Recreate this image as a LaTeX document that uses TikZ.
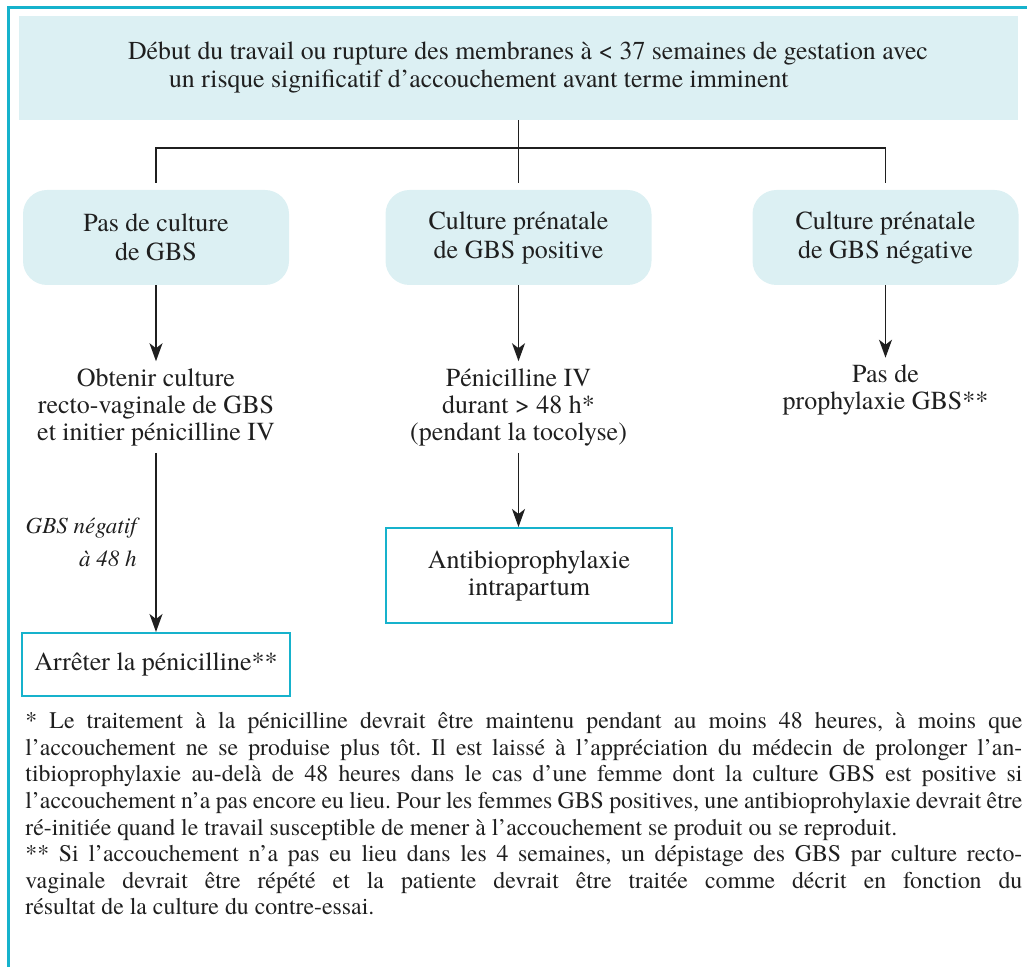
\documentclass[tikz,border=0pt]{standalone}
\usepackage{fontspec}
\setmainfont{TeX Gyre Termes}
\usetikzlibrary{positioning,calc,arrows.meta}
\definecolor{frameCyan}{RGB}{22,178,204}
\definecolor{boxCyan}{RGB}{220,240,243}
\colorlet{inkGray}{black!88}
\setlength{\parindent}{0pt}
\tolerance=9999
\hyphenpenalty=10000
\frenchspacing

\begin{document}
\begin{tikzpicture}[x=0.5pt, y=-0.5pt,
    every node/.style={font=\fontsize{13}{13.5}\selectfont, text=inkGray},
    bluebox/.style={fill=boxCyan, align=center},
    branchbox/.style={bluebox, rounded corners=12pt, minimum width=133pt,
                      minimum height=47.5pt, font=\fontsize{13}{14.5}\selectfont},
    outcome/.style={draw=frameCyan, line width=1pt, fill=white, align=center},
    tree/.style={inkGray, line width=0.8pt},
    flow/.style={tree, -{Stealth[length=9pt, width=6.5pt, inset=2.5pt]}}]

        \useasboundingbox (0,0) rectangle (1027,967);

        % outer frame
        \draw[frameCyan, line width=1.5pt] (8,967) -- (8,8) -- (1027,8);

        % onset
        \node[bluebox, minimum width=499.5pt, minimum height=52pt, align=left,
              font=\fontsize{12.9}{14}\selectfont] (onset) at (518.5,68)
            {\hspace*{9.5pt}Début du travail ou rupture des membranes à < 37 semaines de gestation avec\\
             \hspace*{30pt}un risque significatif d'accouchement avant terme imminent};

        % three branches
        \node[branchbox] (nocult) at (156,237.5) {Pas de culture\\de GBS};
        \node[branchbox] (pos)    at (518.5,237.5) {Culture prénatale\\de GBS positive};
        \node[branchbox] (neg)    at (885.5,237.5) {Culture prénatale\\de GBS négative};

        \coordinate (split) at (518.5,148);
        \draw[tree, shorten <=3.5pt, shorten >=3.5pt] (nocult.north) |- (split) -| (neg.north);
        \draw[tree, shorten >=3.5pt] (onset.south) -- (pos.north);

        % what to do
        \node[align=center] (obtain) at (156,407) {Obtenir culture\\recto-vaginale de GBS\\et initier pénicilline IV};
        \node[align=center] (peni)   at (518.5,407) {Pénicilline IV\\durant > 48 h*\\(pendant la tocolyse)};
        \node[align=center] (noprop) at (885.5,390) {Pas de\\prophylaxie GBS**};

        \draw[flow] (nocult) -- (obtain);
        \draw[flow] (pos) -- (peni);
        \draw[flow] (neg) -- (noprop);

        % outcomes
        \node[outcome, minimum width=143pt, minimum height=47.5pt] (antib) at (529,575.5)
            {Antibioprophylaxie\\intrapartum};
        \node[outcome, minimum width=134pt, minimum height=31.5pt] (stop) at (156,664.5)
            {Arrêter la pénicilline**};

        \draw[flow] (peni) -- (peni |- antib.north);
        \draw[flow] (obtain) -- node[left=6pt, align=right,
              font=\fontsize{11.5}{16.5}\selectfont\itshape] (gbsneg) {GBS négatif\\à 48 h} (stop);

        % footnotes
        \node[anchor=north west, inner sep=0pt, text width=498.5pt, align=justify,
              font=\fontsize{11.9}{13.3}\selectfont] (notes) at (25,712)
            {* Le traitement à la pénicilline devrait être maintenu pendant au moins 48 heures, à moins que\linebreak
             l'accouchement ne se produise plus tôt. Il est laissé à l'appréciation du médecin de prolonger l'an-\linebreak
             tibioprophylaxie au-delà de 48 heures dans le cas d'une femme dont la culture GBS est positive si\linebreak
             l'accouchement n'a pas encore eu lieu. Pour les femmes GBS positives, une antibioprohylaxie devrait être\linebreak
             ré-initiée quand le travail susceptible de mener à l'accouchement se produit ou se reproduit.\par
             ** Si l'accouchement n'a pas eu lieu dans les 4 semaines, un dépistage des GBS par culture recto-\linebreak
             vaginale devrait être répété et la patiente devrait être traitée comme décrit en fonction du\linebreak
             résultat de la culture du contre-essai.};

\end{tikzpicture}
\end{document}
